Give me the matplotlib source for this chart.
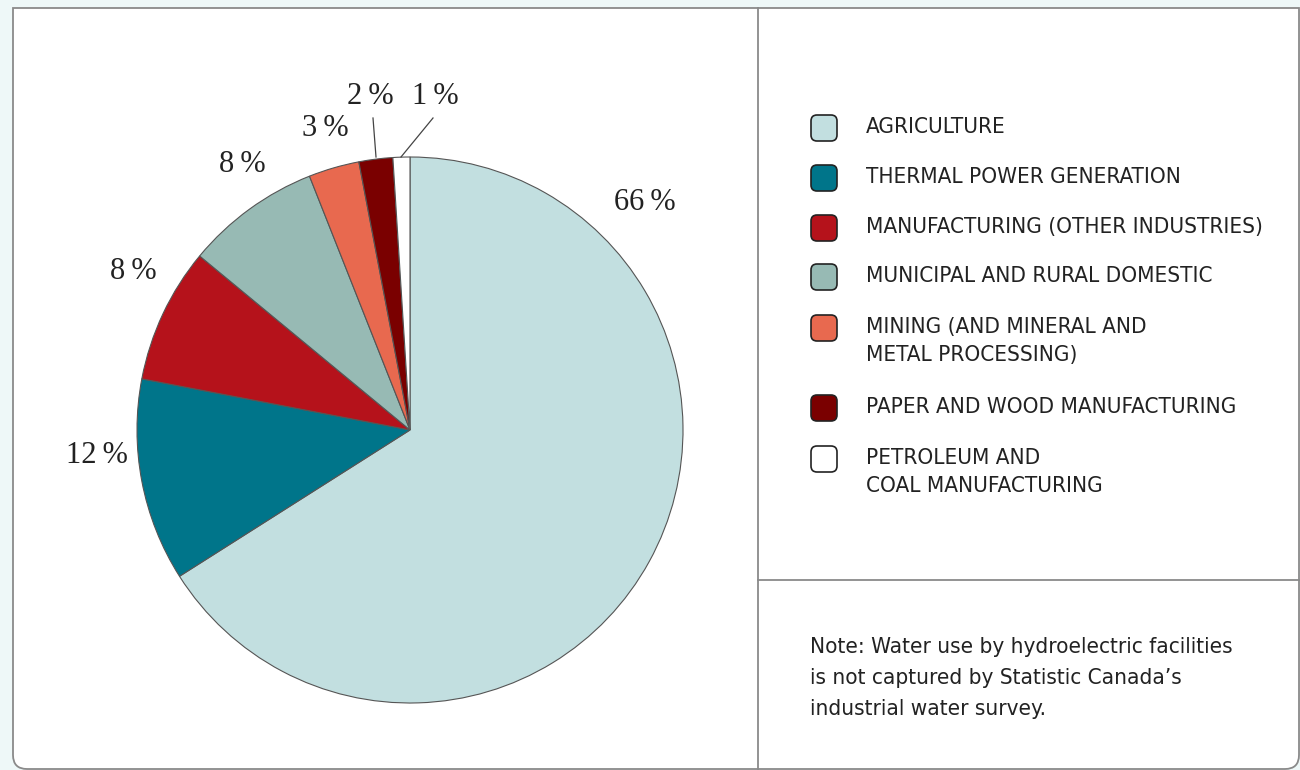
import matplotlib.pyplot as plt
from matplotlib import font_manager
from matplotlib.patches import FancyBboxPatch, PathPatch
from matplotlib.path import Path

sectors = ['AGRICULTURE', 'THERMAL POWER GENERATION', 'MANUFACTURING (OTHER INDUSTRIES)',
           'MUNICIPAL AND RURAL DOMESTIC', 'MINING (AND MINERAL AND\nMETAL PROCESSING)',
           'PAPER AND WOOD MANUFACTURING', 'PETROLEUM AND\nCOAL MANUFACTURING']
shares = [66, 12, 8, 8, 3, 2, 1]
colors = ['#c2dfe0', '#00758a', '#b5121b', '#97bab4', '#e8694f', '#7a0000', '#ffffff']
note = "Note: Water use by hydroelectric facilities\nis not captured by Statistic Canada\u2019s\nindustrial water survey."

# where the percent labels sit (pie data units, radius = 1)
label_xy = [(0.861, 0.832), (-1.147, -0.092), (-1.015, 0.579), (-0.615, 0.971),
            (-0.311, 1.106), (-0.147, 1.22), (0.092, 1.22)]

# pick a narrow sans face if one is around
fonts = [(f.name, str(f.stretch)) for f in font_manager.fontManager.ttflist]
if any(n == 'Liberation Sans Narrow' for n, s in fonts):
    txt_kw = dict(family='Liberation Sans Narrow', fontsize=17)
elif any(n == 'DejaVu Sans' and 'condensed' in s for n, s in fonts):
    txt_kw = dict(family='DejaVu Sans', fontstretch='condensed', fontsize=16.1)
else:
    txt_kw = dict(family='Roboto', fontsize=16.1)

W, H = 1300, 770
fig = plt.figure(figsize=(13, 7.7), dpi=100)
fig.patch.set_facecolor('#eef8f8')

# background panel in pixel coordinates
bg = fig.add_axes([0, 0, 1, 1])
bg.set_xlim(0, W)
bg.set_ylim(H, 0)
bg.axis('off')

x0, y0, x1, y1, r = 13, 8, 1299, 769, 14
verts = [(x0, y0), (x1, y0), (x1, y1 - r), (x1, y1), (x1 - r, y1),
         (x0 + r, y1), (x0, y1), (x0, y1 - r), (x0, y0)]
codes = [Path.MOVETO, Path.LINETO, Path.LINETO, Path.CURVE3, Path.CURVE3,
         Path.LINETO, Path.CURVE3, Path.CURVE3, Path.CLOSEPOLY]
bg.add_patch(PathPatch(Path(verts, codes), facecolor='white', edgecolor='#8a8a8a', lw=1.3))
bg.plot([758, 758], [y0, y1], color='#8a8a8a', lw=1.3)
bg.plot([758, x1], [580, 580], color='#8a8a8a', lw=1.3)

rows_y = [128, 178, 228, 277, 328, 408, 459]
for name, c, yy in zip(sectors, colors, rows_y):
    bg.add_patch(FancyBboxPatch((811, yy - 13), 26, 26, boxstyle='round,pad=0,rounding_size=6',
                                facecolor=c, edgecolor='#222222', lw=1.2))
    bg.text(866, yy - 11, name, color='#222222', va='top', ha='left',
            linespacing=1.5, **txt_kw)

bg.text(810, 637, note, color='#222222', va='top', ha='left', linespacing=1.7, **txt_kw)

# pie
rad = 273
cx, cy = 410, 430
ax = fig.add_axes([(cx - rad) / W, (H - cy - rad) / H, 2 * rad / W, 2 * rad / H])
ax.pie(shares, colors=colors, startangle=90, counterclock=False, radius=1,
       wedgeprops=dict(edgecolor='#555555', linewidth=0.8))
ax.set_xlim(-1, 1)
ax.set_ylim(-1, 1)

for v, (tx, ty) in zip(shares, label_xy):
    ax.text(tx, ty, '%d\u2009%%' % v, family=['Liberation Serif', 'DejaVu Serif'], fontsize=22,
            ha='center', va='center', color='#222222')

# leader lines for the two thin slices
ax.plot([(373 - cx) / rad, (376 - cx) / rad], [(cy - 118) / rad, (cy - 157) / rad],
        color='#444444', lw=0.9, clip_on=False)
ax.plot([(433 - cx) / rad, (401 - cx) / rad], [(cy - 118) / rad, (cy - 157) / rad],
        color='#444444', lw=0.9, clip_on=False)

fig.savefig('out.png', dpi=100, facecolor=fig.get_facecolor())
